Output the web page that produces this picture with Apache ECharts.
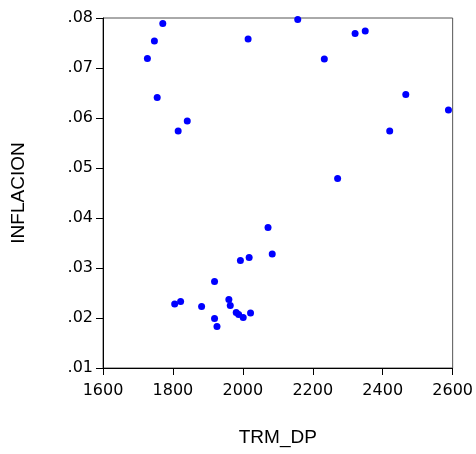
<!DOCTYPE html>
<html>
<head>
<meta charset="utf-8">
<script src="https://cdn.jsdelivr.net/npm/echarts@6/dist/echarts.min.js"></script>
<style>html,body{margin:0;padding:0;background:#fff}#c{width:476px;height:454px}</style>
</head>
<body>
<div id="c"></div>
<script>
var trmDp = [1771,1747,1727,2015,1755,1841,1815,2157,2321,2350,2233,2466,2588,2420,2271,2072,2084,1993,2018,1919,1805,1822,1882,1960,1964,1919,1926,1981,1988,2001,2022];
var inflacion = [0.0789,0.0754,0.0719,0.0758,0.0641,0.0594,0.0574,0.0797,0.0769,0.0774,0.0718,0.0647,0.0616,0.0574,0.0479,0.0381,0.0328,0.0315,0.0321,0.0273,0.0228,0.0233,0.0223,0.0237,0.0225,0.0199,0.0183,0.0211,0.0207,0.0201,0.0210];
var xTicks = [1600,1800,2000,2200,2400,2600];
var yTicks = ['.01','.02','.03','.04','.05','.06','.07','.08'];

var points = trmDp.map(function(v,i){return [v, inflacion[i]];});
var chart = echarts.init(document.getElementById('c'), null, {renderer:'canvas'});
chart.setOption({
  animation:false,
  backgroundColor:'#fff',
  grid:{left:103,top:18,right:22,bottom:86,show:true,borderColor:'#555',borderWidth:1},
  xAxis:{
    type:'value',min:1600,max:2600,interval:200,
    name:'TRM_DP',nameLocation:'middle',nameGap:60,
    nameTextStyle:{fontFamily:'Liberation Sans',fontSize:19,color:'#000'},
    axisLine:{show:true,onZero:false,lineStyle:{color:'#000',width:1}},
    axisTick:{show:true,length:7,inside:false,lineStyle:{color:'#000'}},
    axisLabel:{margin:15,fontFamily:'DejaVu Sans',fontSize:16,color:'#000',
      formatter:function(v){return xTicks.indexOf(v)>=0?String(v):'';}},
    splitLine:{show:false}
  },
  yAxis:{
    type:'value',min:0.01,max:0.08,interval:0.01,
    name:'INFLACION',nameLocation:'middle',nameGap:75,
    nameTextStyle:{fontFamily:'Liberation Sans',fontSize:19,color:'#000'},
    axisLine:{show:true,onZero:false,lineStyle:{color:'#000',width:1}},
    axisTick:{show:true,length:7,inside:false,lineStyle:{color:'#000'}},
    axisLabel:{margin:10,fontFamily:'DejaVu Sans',fontSize:16,color:'#000',
      formatter:function(v){var s=v.toFixed(2).replace(/^0/,'');return yTicks.indexOf(s)>=0?s:'';}},
    splitLine:{show:false}
  },
  series:[{
    type:'scatter',data:points,symbol:'circle',symbolSize:7,
    itemStyle:{color:'#0000ff',opacity:1},clip:false
  }]
});
</script>
</body>
</html>
